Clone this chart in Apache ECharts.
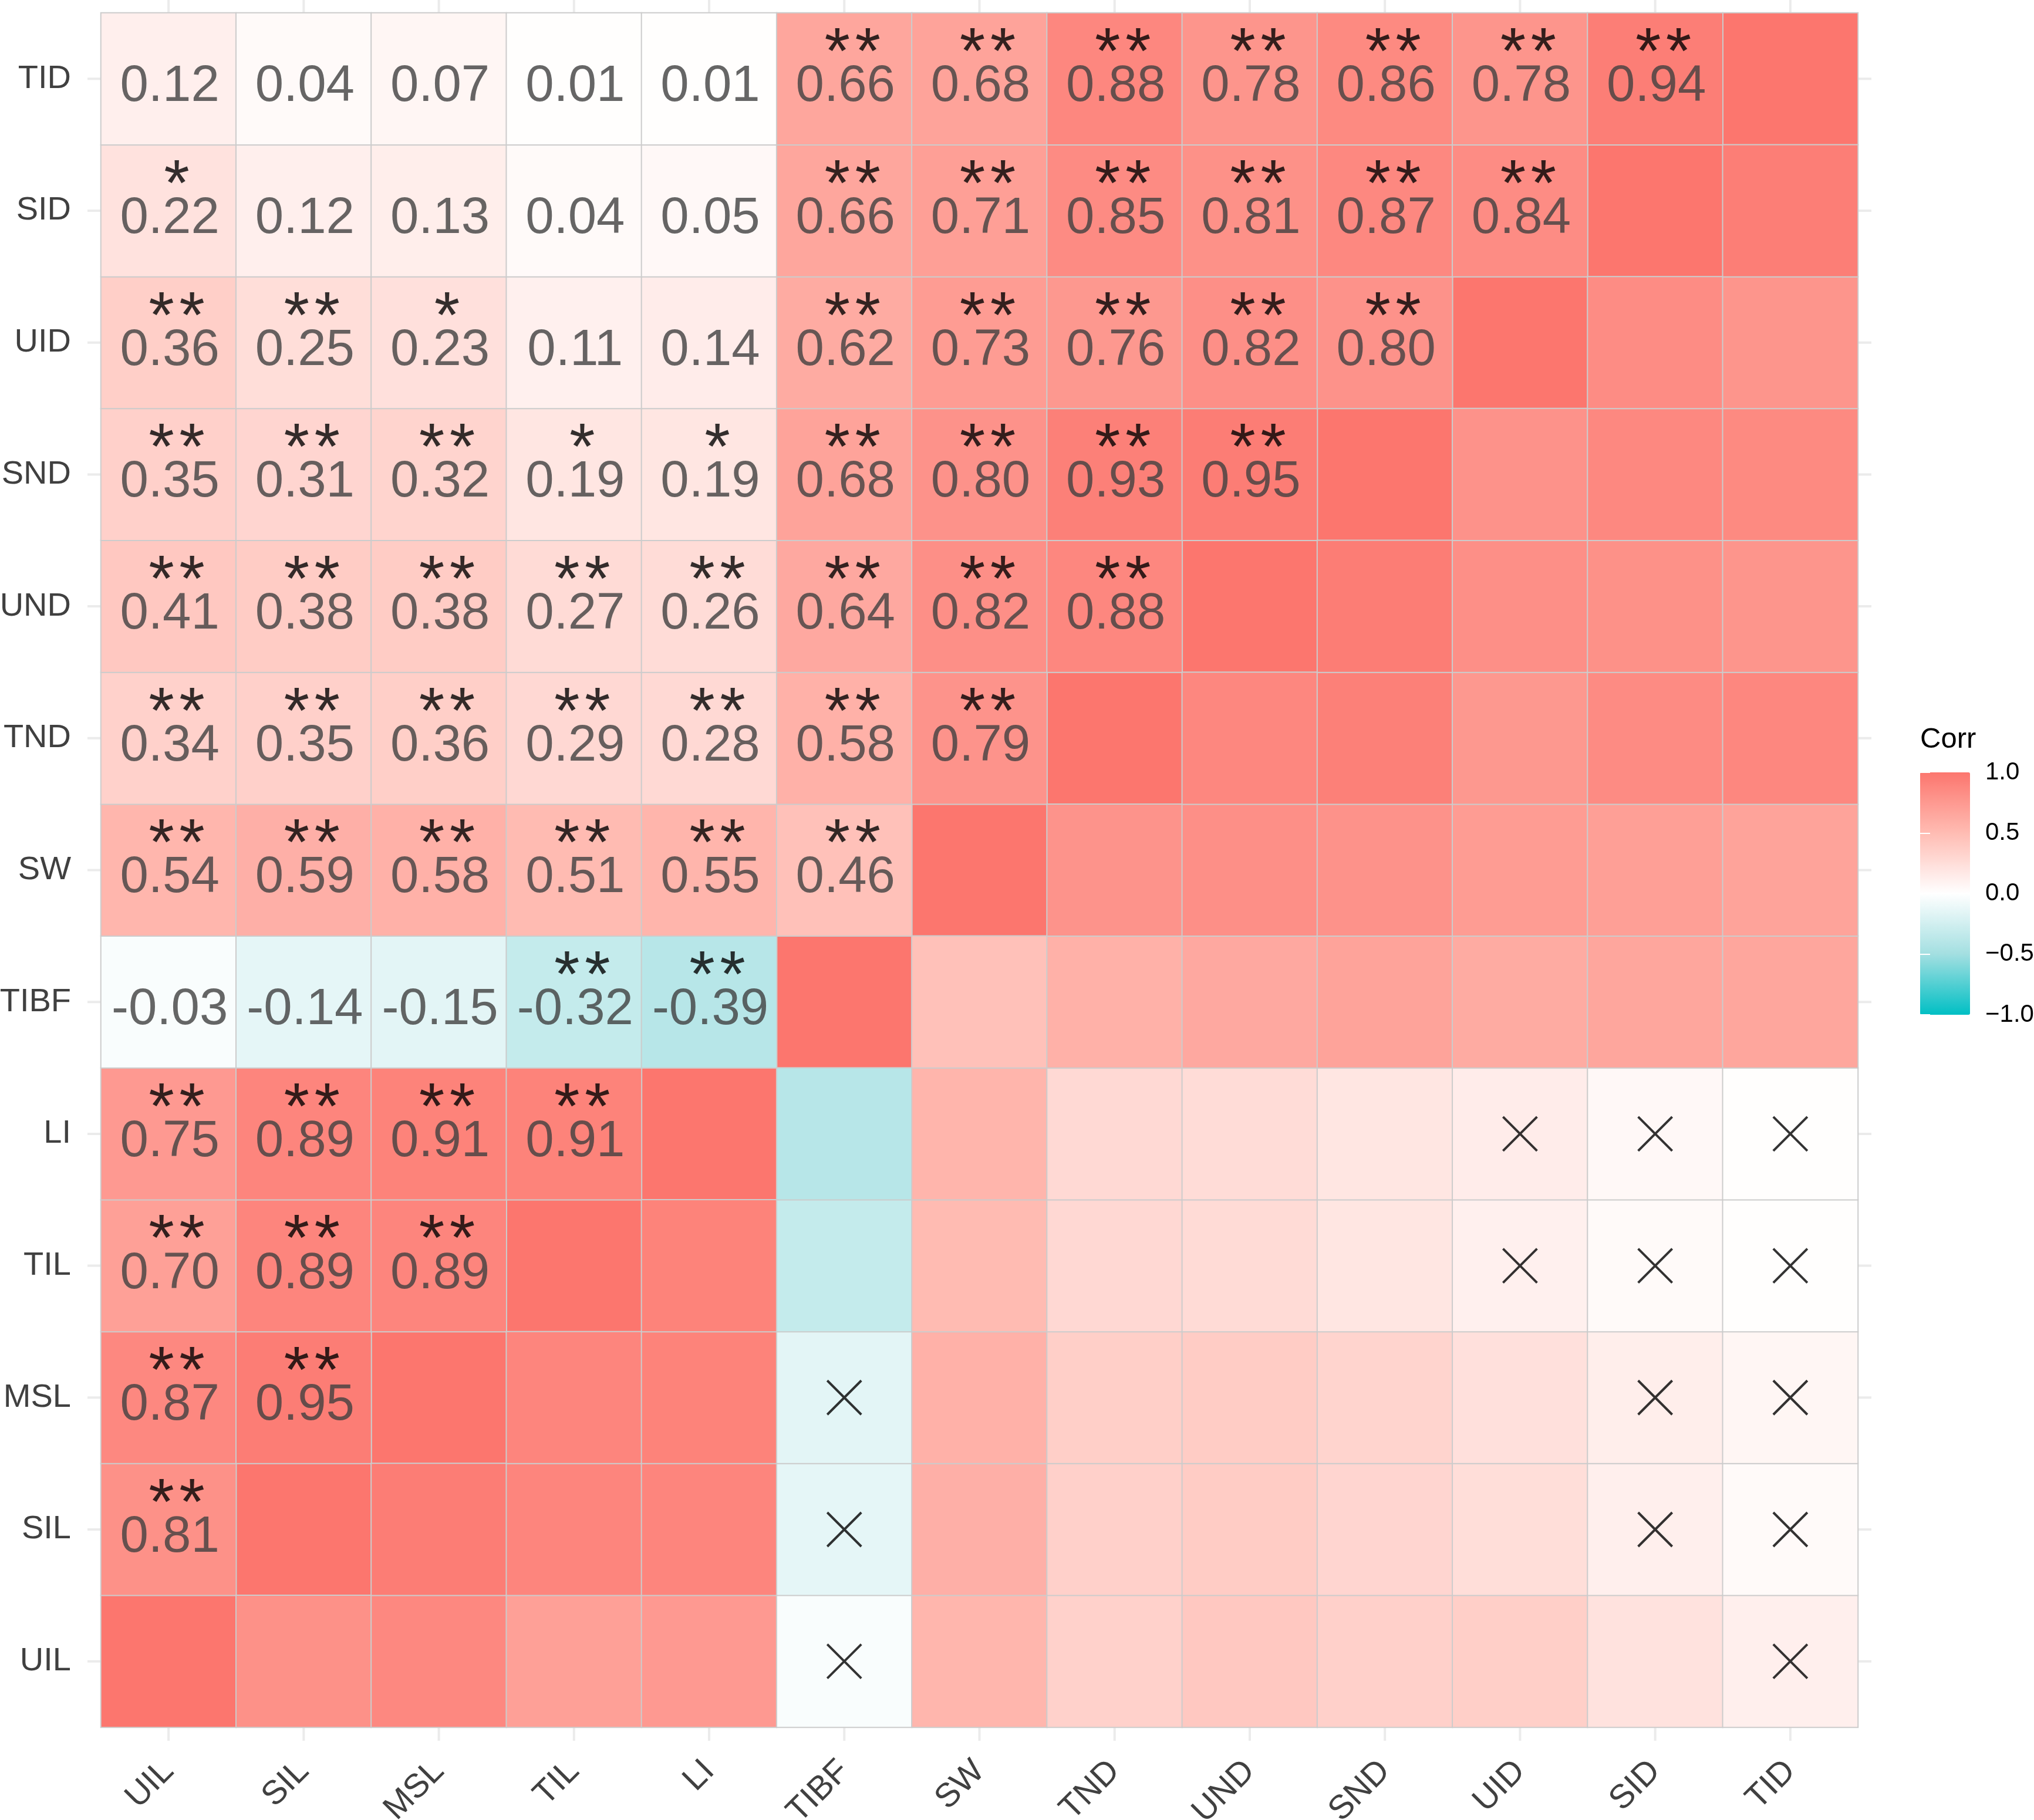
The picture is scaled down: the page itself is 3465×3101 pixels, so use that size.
<!DOCTYPE html>
<html>
<head>
<meta charset="utf-8">
<script src="https://cdn.jsdelivr.net/npm/echarts@6/dist/echarts.min.js"></script>
<style>
  html, body { margin: 0; padding: 0; background: #fff; }
  #chart { width: 3465px; height: 3101px; }
</style>
</head>
<body>
<div id="chart"></div>
<script>
const vars = ['UIL', 'SIL', 'MSL', 'TIL', 'LI', 'TIBF', 'SW', 'TND', 'UND', 'SND', 'UID', 'SID', 'TID']

// correlation of each variable with the ones listed before it
const rSIL = [0.81]
const rMSL = [0.87, 0.95]
const rTIL = [0.70, 0.89, 0.89]
const rLI = [0.75, 0.89, 0.91, 0.91]
const rTIBF = [-0.03, -0.14, -0.15, -0.32, -0.39]
const rSW = [0.54, 0.59, 0.58, 0.51, 0.55, 0.46]
const rTND = [0.34, 0.35, 0.36, 0.29, 0.28, 0.58, 0.79]
const rUND = [0.41, 0.38, 0.38, 0.27, 0.26, 0.64, 0.82, 0.88]
const rSND = [0.35, 0.31, 0.32, 0.19, 0.19, 0.68, 0.80, 0.93, 0.95]
const rUID = [0.36, 0.25, 0.23, 0.11, 0.14, 0.62, 0.73, 0.76, 0.82, 0.80]
const rSID = [0.22, 0.12, 0.13, 0.04, 0.05, 0.66, 0.71, 0.85, 0.81, 0.87, 0.84]
const rTID = [0.12, 0.04, 0.07, 0.01, 0.01, 0.66, 0.68, 0.88, 0.78, 0.86, 0.78, 0.94]

// significance marks, same layout
const sSIL = ['**']
const sMSL = ['**', '**']
const sTIL = ['**', '**', '**']
const sLI = ['**', '**', '**', '**']
const sTIBF = ['', '', '', '**', '**']
const sSW = ['**', '**', '**', '**', '**', '**']
const sTND = ['**', '**', '**', '**', '**', '**', '**']
const sUND = ['**', '**', '**', '**', '**', '**', '**', '**']
const sSND = ['**', '**', '**', '*', '*', '**', '**', '**', '**']
const sUID = ['**', '**', '*', '', '', '**', '**', '**', '**', '**']
const sSID = ['*', '', '', '', '', '**', '**', '**', '**', '**', '**']
const sTID = ['', '', '', '', '', '**', '**', '**', '**', '**', '**', '**']

const legendTicks = [-1, -0.5, 0, 0.5, 1]

const corrRows = [[], rSIL, rMSL, rTIL, rLI, rTIBF, rSW, rTND, rUND, rSND, rUID, rSID, rTID]
const sigRows = [[], sSIL, sMSL, sTIL, sLI, sTIBF, sSW, sTND, sUND, sSND, sUID, sSID, sTID]

const font = 'Liberation Sans'

const cells = []
const numbers = []
const stars = []
const crosses = []
vars.forEach((_, i) => {
  cells.push([i, i, 1])
  corrRows[i].forEach((r, j) => {
    const sig = sigRows[i][j]
    cells.push([j, i, r])
    cells.push([i, j, r])
    numbers.push([j, i, r])
    if (sig) stars.push([j, i, sig])
    else crosses.push([i, j, r])
  })
})

const chart = echarts.init(document.getElementById('chart'), null, { renderer: 'canvas' })

const option = {
  backgroundColor: '#ffffff',
  animation: false,
  title: {
    text: 'Corr',
    left: 3271,
    top: 1236,
    padding: 0,
    textStyle: { fontFamily: font, fontSize: 49, fontWeight: 'normal', color: '#000' },
  },
  grid: [
    { left: 172, top: 22, width: 2993, height: 2921, containLabel: false, outerBoundsMode: 'none' },
    { left: 3271, top: 1316, width: 85, height: 413, containLabel: false, outerBoundsMode: 'none' },
  ],
  xAxis: [
    {
      type: 'category',
      data: vars,
      gridIndex: 0,
      axisLine: { show: false },
      axisTick: { show: false },
      splitLine: { show: false },
      axisLabel: { rotate: 45, margin: 66, fontFamily: font, fontSize: 57, color: '#404040' },
    },
    { type: 'value', gridIndex: 1, show: false, min: 0, max: 1 },
  ],
  yAxis: [
    {
      type: 'category',
      data: vars,
      gridIndex: 0,
      axisLine: { show: false },
      axisTick: { show: false },
      splitLine: { show: false },
      axisLabel: { margin: 51, fontFamily: font, fontSize: 56, color: '#404040' },
    },
    {
      type: 'value',
      gridIndex: 1,
      position: 'right',
      min: -1,
      max: 1,
      interval: 0.5,
      z: 10,
      axisLine: { show: false },
      splitLine: { show: false },
      axisTick: { show: true, inside: true, length: 17, lineStyle: { color: '#ffffff', width: 2 } },
      axisLabel: {
        margin: 26,
        fontFamily: font,
        fontSize: 42,
        color: '#000',
        customValues: legendTicks,
        formatter: v => v.toFixed(1).replace('-', '\u2212'),
      },
    },
    {
      type: 'value',
      gridIndex: 1,
      position: 'left',
      min: -1,
      max: 1,
      interval: 0.5,
      z: 10,
      axisLine: { show: false },
      splitLine: { show: false },
      axisLabel: { show: false },
      axisTick: { show: true, inside: true, length: 17, lineStyle: { color: '#ffffff', width: 2 } },
    },
  ],
  visualMap: {
    type: 'continuous',
    min: -1,
    max: 1,
    seriesIndex: 0,
    calculable: false,
    orient: 'vertical',
    left: 3271,
    top: 1316,
    padding: 0,
    itemWidth: 85,
    itemHeight: 413,
    text: null,
    hoverLink: false,
    inRange: { color: ['#00BFC4', '#A3DFE1', '#FFFFFF', '#FFBCB3', '#FC766E'] },
  },
  series: [
    {
      type: 'heatmap',
      data: cells,
      z: 2,
      itemStyle: { borderColor: '#CCCCCC', borderWidth: 2 },
      emphasis: { disabled: true },
    },
    {
      type: 'custom',
      z: 1,
      data: vars.map((_, i) => [i, i]),
      renderItem: (params, api) => {
        const i = api.value(0)
        const cx = api.coord([i, 0])[0]
        const cy = api.coord([0, i])[1]
        const { x, y, width, height } = params.coordSys
        const ext = 23
        const style = { stroke: '#EBEBEB', lineWidth: 4 }
        return {
          type: 'group',
          children: [
            { type: 'line', shape: { x1: cx, y1: y - ext, x2: cx, y2: y + height + ext }, style },
            { type: 'line', shape: { x1: x - ext, y1: cy, x2: x + width + ext, y2: cy }, style },
          ],
        }
      },
    },
    {
      type: 'scatter',
      data: numbers,
      z: 5,
      symbol: 'rect',
      symbolSize: 1,
      itemStyle: { color: 'rgba(0,0,0,0)' },
      label: {
        show: true,
        position: 'inside',
        offset: [2, 14],
        formatter: p => p.value[2].toFixed(2),
        fontFamily: font,
        fontSize: 87,
        color: '#404040',
      },
    },
    {
      type: 'scatter',
      data: stars,
      z: 5,
      symbol: 'rect',
      symbolSize: 1,
      itemStyle: { color: 'rgba(0,0,0,0)' },
      label: {
        show: true,
        position: 'inside',
        offset: [14, -40],
        formatter: p => (p.value[2] === '**' ? '{s|*}{g|\u00a0}{s|*}' : '{s|*}'),
        rich: {
          s: { fontFamily: font, fontSize: 112, color: '#000' },
          g: { fontFamily: font, fontSize: 30 },
        },
      },
    },
    {
      type: 'scatter',
      data: crosses,
      z: 5,
      symbol: 'path://M0,0L10,10M10,0L0,10',
      symbolSize: 58,
      itemStyle: { color: 'none', borderColor: '#000', borderWidth: 4 },
    },
  ],
}

chart.setOption(option)
window.addEventListener('resize', () => chart.resize())
</script>
</body>
</html>
